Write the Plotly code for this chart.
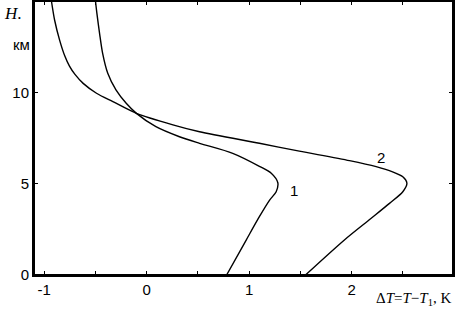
import plotly.graph_objects as go

# Curve 1: temperature difference (K) vs height H (km)
dT1 = [0.78, 0.97, 1.10, 1.20, 1.264, 1.28, 1.216, 1.10, 0.84, 0.516, 0.32, 0.09, -0.10, -0.20, -0.30, -0.38, -0.43, -0.46, -0.486, -0.50]
H1 = [0.0, 1.9, 3.19, 4.10, 4.56, 5.05, 5.57, 5.95, 6.66, 7.21, 7.57, 8.12, 8.85, 9.40, 10.13, 11.04, 12.13, 13.23, 14.32, 15.0]

# Curve 2
dT2 = [1.55, 1.93, 2.17, 2.37, 2.50, 2.54, 2.50, 2.40, 2.24, 1.98, 1.49, 1.10, 0.516, 0.256, -0.10, -0.33, -0.49, -0.62, -0.70, -0.755, -0.80, -0.85, -0.899, -0.93]
H2 = [0.0, 1.92, 3.01, 3.92, 4.56, 5.02, 5.38, 5.65, 5.93, 6.26, 6.78, 7.21, 7.84, 8.22, 8.85, 9.49, 9.95, 10.49, 10.98, 11.45, 12.0, 12.86, 13.96, 15.0]

curve_labels = ["1", "2"]
label_x = [1.44, 2.29]
label_y = [4.6, 6.45]

x_tickvals = [-1, 0, 1, 2]
x_ticktext = ["-1", "0", "1", "2"]
y_tickvals = [0, 5, 10]
y_ticktext = ["0", "5", "10"]

fig = go.Figure()
for xs, ys in [(dT1, H1), (dT2, H2)]:
    fig.add_trace(go.Scatter(x=xs, y=ys, mode="lines",
                             line=dict(color="black", width=1.4, shape="spline", smoothing=0.8),
                             showlegend=False, hoverinfo="skip"))

for t, lx, ly in zip(curve_labels, label_x, label_y):
    fig.add_annotation(x=lx, y=ly, text=t, showarrow=False,
                       font=dict(family="Liberation Sans", size=15, color="black"))

axis_common = dict(showline=True, linecolor="black", linewidth=2, mirror="all",
                   ticks="inside", ticklen=4, tickwidth=1, tickcolor="black",
                   showgrid=False, zeroline=False, automargin=False,
                   tickfont=dict(family="Liberation Sans", size=15, color="black"))

fig.update_xaxes(range=[-1.1, 2.99], tickmode="array", tickvals=x_tickvals,
                 ticktext=x_ticktext,
                 minor=dict(ticks="inside", ticklen=4, tickwidth=1, tickcolor="black",
                            tick0=-1, dtick=0.5, showgrid=False),
                 **axis_common)
fig.update_yaxes(range=[0, 15], tickmode="array", tickvals=y_tickvals,
                 ticktext=y_ticktext, **axis_common)

# frame around the plotting area
fig.add_shape(type="rect", xref="paper", yref="paper", x0=0, y0=0, x1=1, y1=1,
              line=dict(color="black", width=2), layer="above")

fig.add_annotation(xref="paper", yref="paper", x=1.0, y=0, xanchor="right", yanchor="top",
                   yshift=-13, showarrow=False,
                   text="Δ<i>T</i>=<i>T</i>−<i>T</i><sub>1</sub>, K",
                   font=dict(family="Liberation Serif", size=15, color="black"))
fig.add_annotation(xref="paper", yref="paper", x=-0.076, y=0.955, xanchor="left", yanchor="middle",
                   showarrow=False, text="<i>H</i>.",
                   font=dict(family="Liberation Serif", size=17, color="black"))
fig.add_annotation(xref="paper", yref="paper", x=-0.055, y=0.84, xanchor="left", yanchor="middle",
                   showarrow=False, text="км",
                   font=dict(family="Liberation Sans", size=15, color="black"))

fig.update_layout(width=455, height=309, margin=dict(l=34, r=2, t=1, b=34),
                  plot_bgcolor="white", paper_bgcolor="white")

fig.write_html("out.html", config={"displayModeBar": False},
               post_script="document.body.style.margin='0';document.body.style.padding='0';")
